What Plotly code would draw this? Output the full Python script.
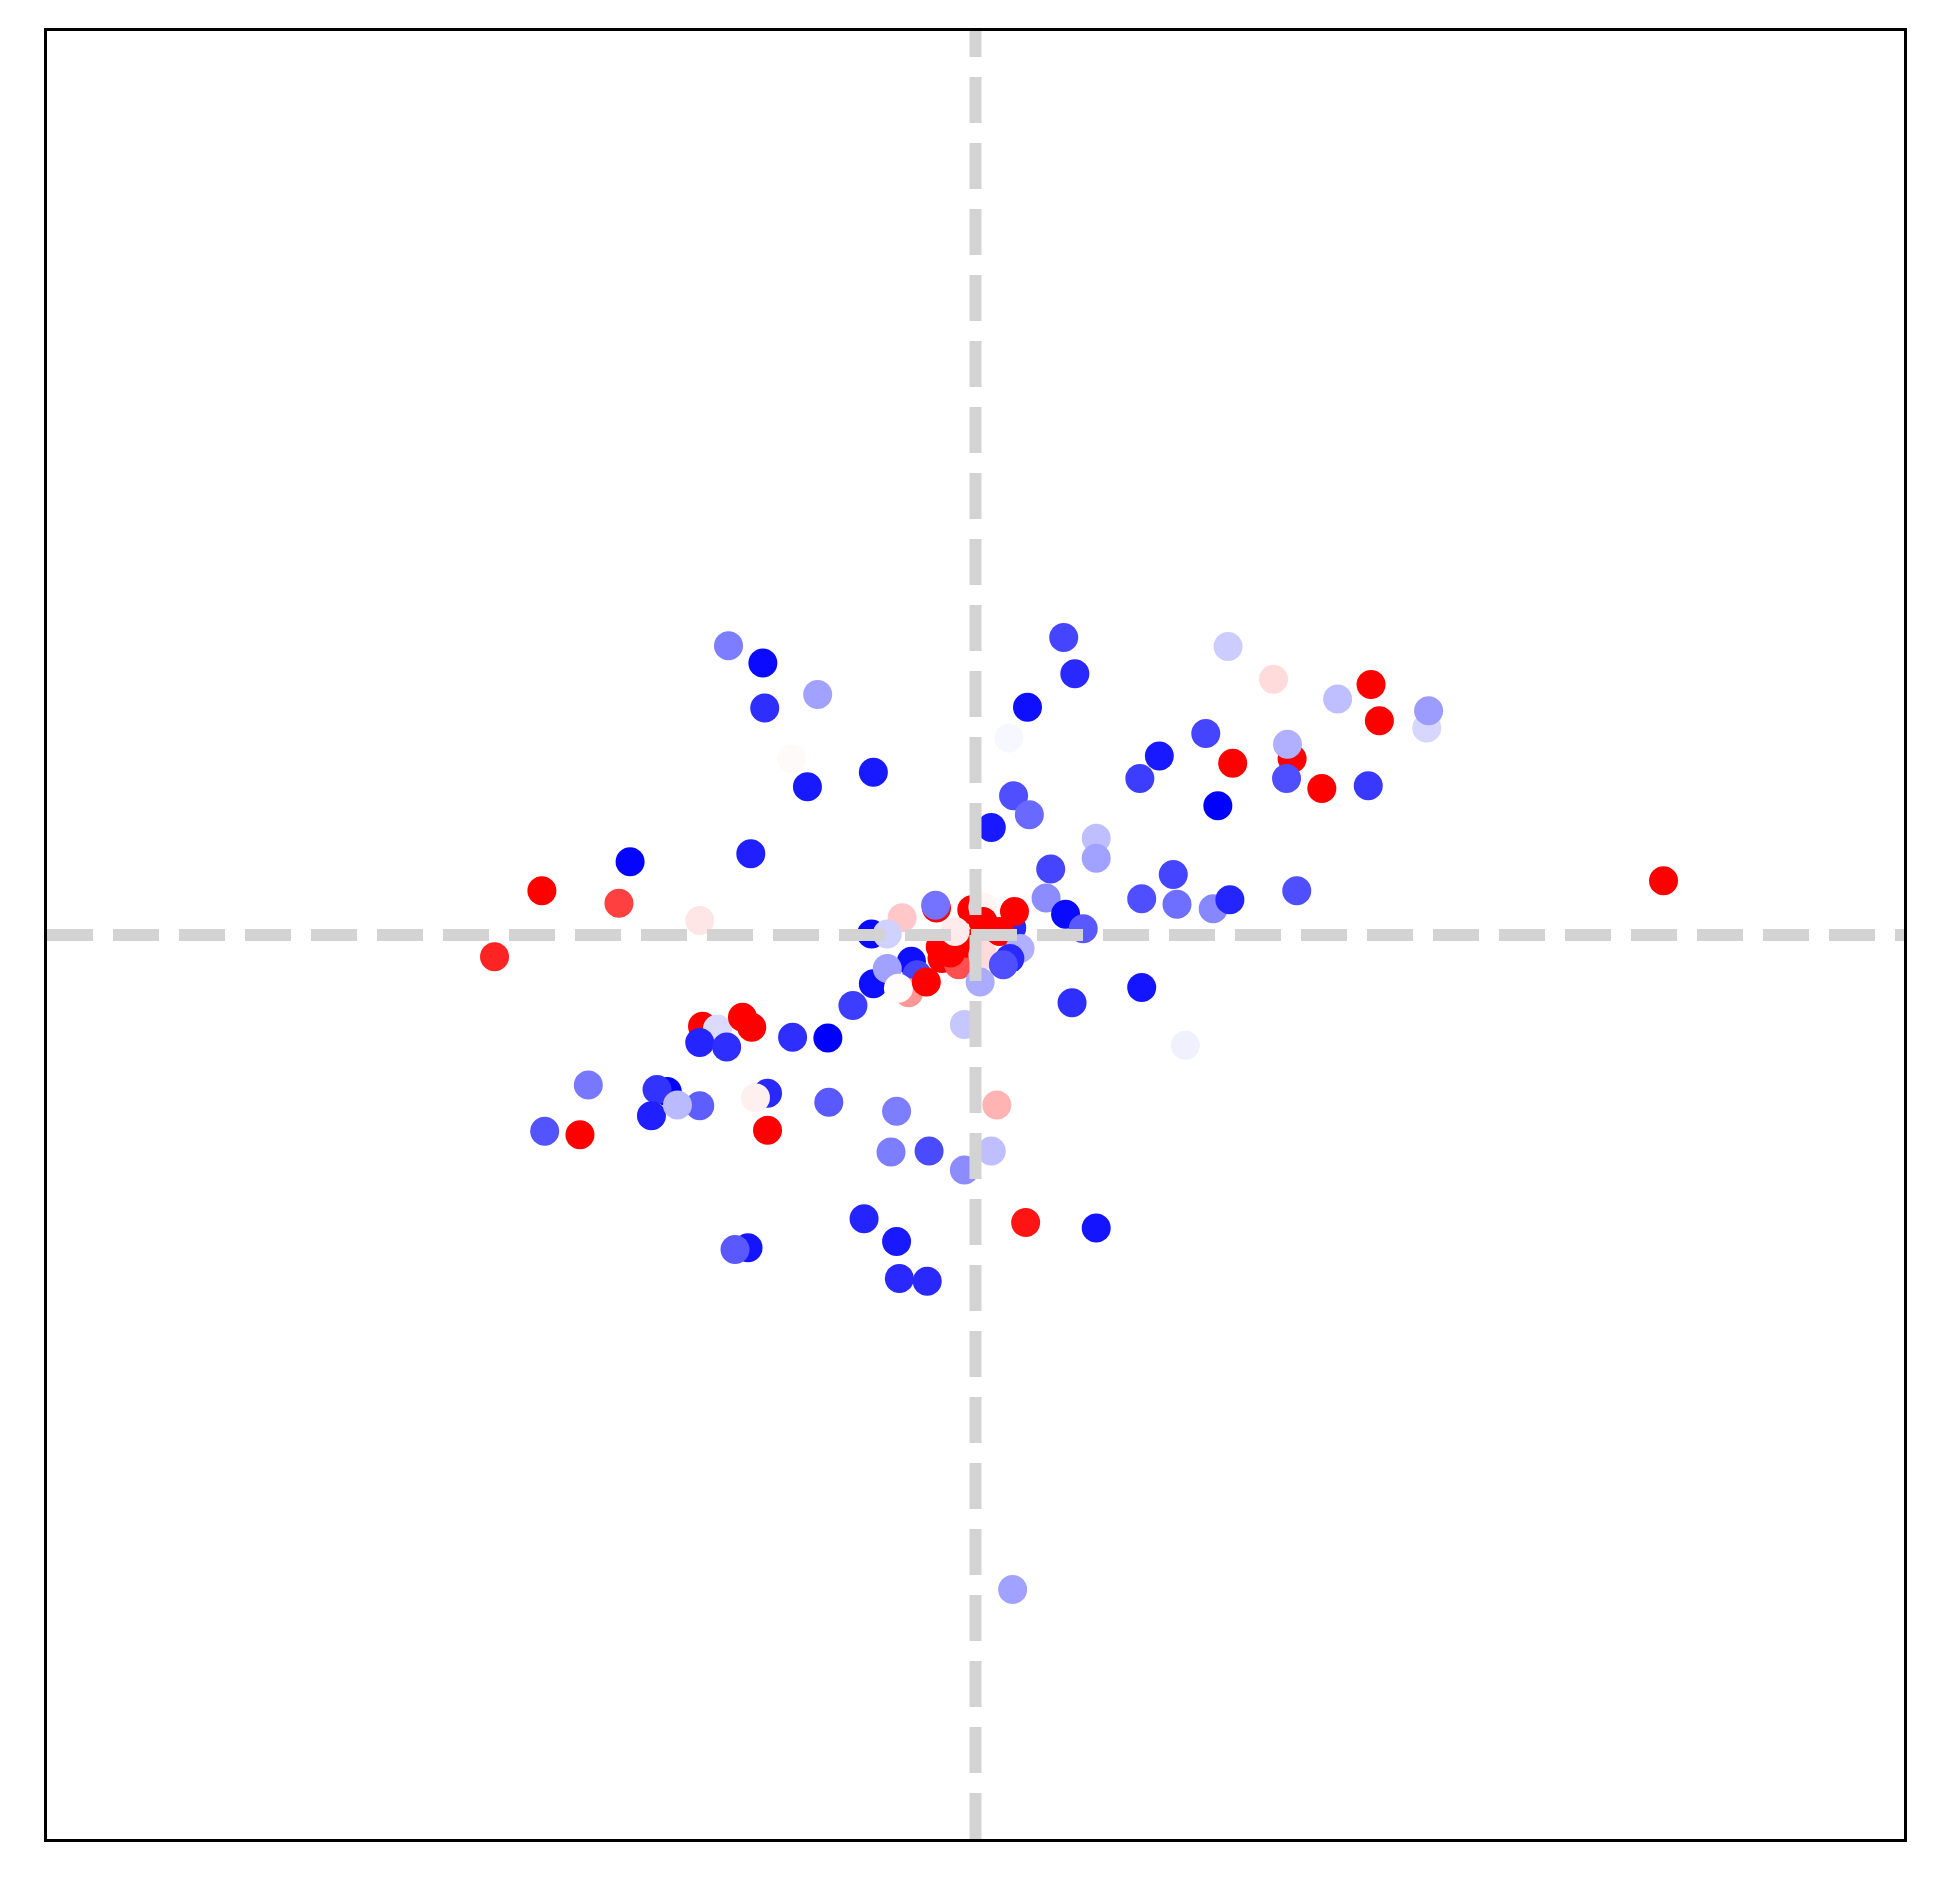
import plotly.graph_objects as go

# ---------------------------
# DATOS
# ---------------------------
x_vals = [
    -2.66, -2.29, -1.70, -2.27, -1.98, -1.81, -1.10, -2.42, -3.72, -4.67, -3.84, -2.97,
    0.95, 1.07, 0.56, 0.36, 2.72, 3.21, 2.48, 1.98, 1.77, 2.77,
    3.41, 3.36,
    3.35, 2.61, 0.17, 0.41, 0.58, 1.30, 1.30, 0.81, 2.13, 1.79, 2.17, 2.56, 2.74, 3.46,
    0.76, 0.97, 1.16, 4.26, 3.90, 4.35,
    4.86, 4.88,
    3.73, 4.23, 7.41, -5.18,
    -2.94, -2.78, -2.51, -2.41, -2.97, -2.68, -1.97, -1.59, -1.32, -1.10, -4.17,
    -3.32, -3.43, -3.49, -2.97, -3.21,
    -2.24, -2.37,
    -2.24, -1.58, -4.64, -4.26, -1.20,
    -2.45, -2.59,
    -0.85, -0.91, -0.50, -0.12, 0.17, 0.23, 2.26, -0.85, -0.82, -0.52, 0.54, 1.30,
    1.04, 1.79, 0.40,
    -0.42, -0.43, -0.79, -1.12, -0.95, -0.69, -0.95, -0.63, -0.72, -0.83,
    0.39,
    -0.53, -0.36, -0.18, -0.38, -0.27, -0.09, -0.04, 0.08, 0.08, 0.26, 0.42,
    -0.22, 0.08,
    0.48, 0.37, 0.30, 0.05, -0.12,
]
y_vals = [
    3.20, 3.01, 2.66, 2.51, 1.95, 1.64, 1.80, 0.90, 0.81, 0.49, 0.35, 0.16,
    3.29, 2.89, 2.52, 2.18, 3.19, 2.83, 2.23, 1.98, 1.73, 1.90,
    1.95, 2.11,
    1.73, 1.43, 1.19, 1.54, 1.33, 1.07, 0.85, 0.73, 0.67, 0.40, 0.34, 0.29, 0.39, 0.49,
    0.41, 0.23, 0.07, 2.77, 2.61, 2.37,
    2.29, 2.48,
    1.62, 1.65, 0.60, -0.24,
    -1.01, -1.04, -0.91, -1.02, -1.19, -1.24, -1.13, -1.14, -0.78, -0.54, -1.66,
    -1.73, -1.71, -2.00, -1.89, -1.88,
    -1.75, -1.80,
    -2.16, -1.85, -2.17, -2.21, -3.14,
    -3.46, -3.48,
    -1.95, -2.40, -2.39, -2.60, -2.39, -1.88, -1.22, -3.39, -3.80, -3.83, -3.18, -3.24,
    -0.75, -0.58, -7.24,
    0.30, 0.33, 0.19, 0.01, 0.01, -0.29, -0.37, -0.44, -0.64, -0.59,
    0.08,
    -0.52, -0.26, -0.33, -0.13, -0.20, -0.09, 0.28, 0.31, 0.15, 0.04, 0.26,
    0.04, -0.22,
    -0.15, -0.26, -0.33, -0.52, -0.99,
]
# valor de color: -1 azul, 0 blanco, 1 rojo
c_vals = [
    -0.51, -0.96, -0.37, -0.82, 0.02, -0.90, -0.90, -0.88, -0.98, 1.0, 0.75, 0.10,
    -0.73, -0.84, -0.94, -0.03, -0.20, 0.14, -0.73, -0.90, -0.76, 1.0,
    1.0, -0.31,
    -0.69, -1.0, -0.90, -0.69, -0.59, -0.25, -0.37, -0.73, -0.73, -0.69, -0.57, -0.47, -0.86, -0.69,
    -0.45, -0.96, -0.65, 1.0, -0.25, 1.0,
    -0.16, -0.39,
    1.0, -0.78, 1.0, 0.86,
    1.0, -0.14, 1.0, 1.0, -0.86, -0.82, -0.82, -1.0, -0.76, -0.94, -0.53,
    -1.0, -0.80, -0.88, -0.63, -0.27,
    -0.84, 0.06,
    1.0, -0.65, -0.67, 1.0, -0.86,
    -0.92, -0.65,
    -0.51, -0.51, -0.71, -0.45, -0.25, 0.30, -0.06, -0.90, -0.84, -0.84, 0.92, -0.92,
    -0.82, -0.92, -0.37,
    1.0, -0.55, 0.22, -0.96, -0.18, -0.94, -0.37, -0.73, 0.41, 0.01,
    -0.84,
    1.0, 1.0, 0.69, 1.0, 1.0, 1.0, 1.0, 0.04, 1.0, 1.0, 1.0,
    0.08, 0.14,
    -0.31, -0.84, -0.69, -0.33, -0.22,
]

LIM = 10

bwr = [[0.0, "rgb(0,0,255)"], [0.5, "rgb(255,255,255)"], [1.0, "rgb(255,0,0)"]]

fig = go.Figure()
fig.add_trace(go.Scatter(
    x=x_vals,
    y=y_vals,
    mode="markers",
    marker=dict(
        size=29,
        color=c_vals,
        colorscale=bwr,
        cmin=-1,
        cmax=1,
        line=dict(width=0),
    ),
    hoverinfo="skip",
    showlegend=False,
))

# líneas de referencia discontinuas (encima de los puntos)
linea = dict(color="rgb(211,211,211)", width=12, dash="46px,20px")
fig.add_shape(type="line", x0=-LIM, x1=LIM, y0=0, y1=0,
              xref="x", yref="y", line=linea, layer="above")
fig.add_shape(type="line", x0=0, x1=0, y0=-LIM, y1=LIM,
              xref="x", yref="y", line=linea, layer="above")

ejes = dict(
    range=[-LIM, LIM],
    showgrid=False,
    zeroline=False,
    showticklabels=False,
    ticks="",
    showline=True,
    linecolor="black",
    linewidth=3,
    mirror=True,
)

# el body de la página añade 8px de margen: la figura mide 16px menos
fig.update_layout(
    width=1918,
    height=1870,
    margin=dict(l=38.5, r=21.5, t=22.5, b=38.5),
    paper_bgcolor="white",
    plot_bgcolor="white",
    xaxis=ejes,
    yaxis=ejes,
)

fig.write_html("out.html")
